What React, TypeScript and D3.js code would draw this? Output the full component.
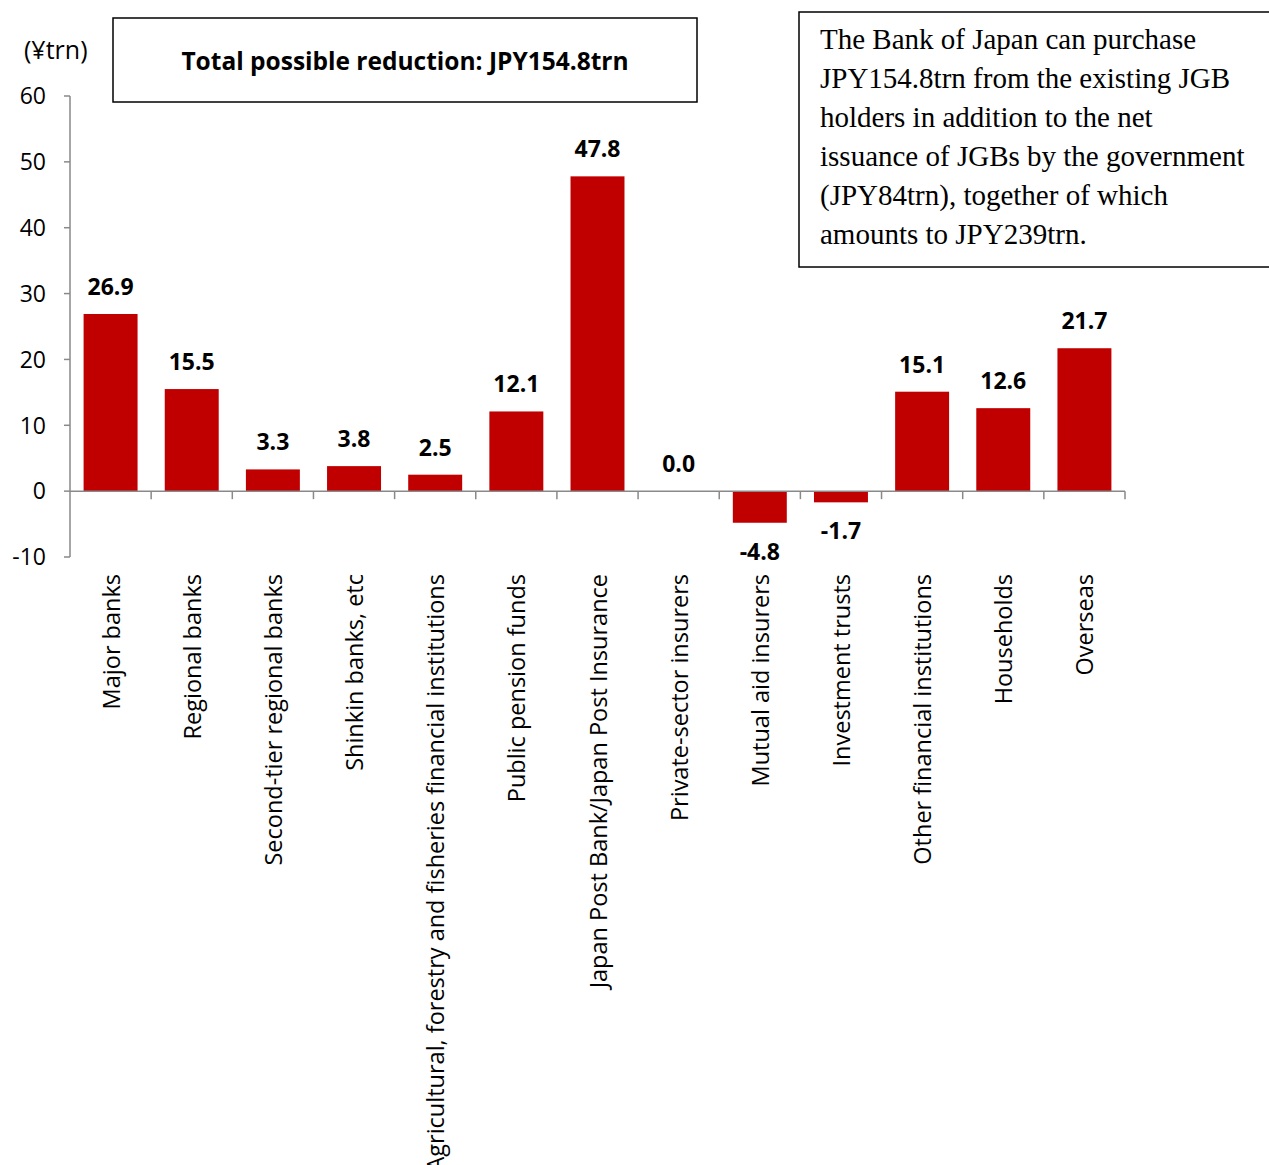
import React, { useEffect, useRef } from "react";
import { select, scaleBand, scaleLinear } from "d3";

const categories = [
  "Major banks",
  "Regional banks",
  "Second-tier regional banks",
  "Shinkin banks, etc",
  "Agricultural, forestry and fisheries financial institutions",
  "Public pension funds",
  "Japan Post Bank/Japan Post Insurance",
  "Private-sector insurers",
  "Mutual aid insurers",
  "Investment trusts",
  "Other financial institutions",
  "Households",
  "Overseas",
];
const values = [26.9, 15.5, 3.3, 3.8, 2.5, 12.1, 47.8, 0.0, -4.8, -1.7, 15.1, 12.6, 21.7];
const yTicks = [-10, 0, 10, 20, 30, 40, 50, 60];
const unitLabel = "(¥trn)";
const titleText = "Total possible reduction: JPY154.8trn";
const noteLines = [
  "The Bank of Japan can purchase",
  "JPY154.8trn from the existing JGB",
  "holders in addition to the net",
  "issuance of JGBs by the government",
  "(JPY84trn), together of which",
  "amounts to JPY239trn.",
];

const W = 1269;
const H = 1165;
const PLOT = { left: 70, right: 1125, top: 96, bottom: 557 };
const BAR = "#C00000";
const AXIS = "#898989";
const SANS = "'Open Sans', sans-serif";
const SERIF = "'Liberation Serif', 'Times New Roman', serif";

export default function App() {
  const ref = useRef<SVGSVGElement>(null);

  useEffect(() => {
    if (!ref.current) return;
    const svg = select(ref.current);
    svg.selectAll("*").remove();

    const x = scaleBand<string>()
      .domain(categories)
      .range([PLOT.left, PLOT.right])
      .paddingInner(0.335)
      .paddingOuter(0.1675);
    const step = x.step();
    const y = scaleLinear().domain([-10, 60]).range([PLOT.bottom, PLOT.top]);
    const y0 = y(0);

    // bars
    svg
      .selectAll("rect.bar")
      .data(values)
      .join("rect")
      .attr("class", "bar")
      .attr("x", (_, i) => x(categories[i])!)
      .attr("width", x.bandwidth())
      .attr("y", (d) => Math.min(y(d), y0))
      .attr("height", (d) => Math.abs(y(d) - y0))
      .attr("fill", BAR);

    // y axis
    svg
      .append("line")
      .attr("x1", PLOT.left)
      .attr("x2", PLOT.left)
      .attr("y1", y(60))
      .attr("y2", y(-10))
      .attr("stroke", AXIS)
      .attr("stroke-width", 1.5);
    svg
      .selectAll("line.ytick")
      .data(yTicks)
      .join("line")
      .attr("class", "ytick")
      .attr("x1", PLOT.left - 6)
      .attr("x2", PLOT.left)
      .attr("y1", (d) => y(d))
      .attr("y2", (d) => y(d))
      .attr("stroke", AXIS)
      .attr("stroke-width", 1.5);
    svg
      .selectAll("text.ylabel")
      .data(yTicks)
      .join("text")
      .attr("class", "ylabel")
      .attr("x", 46)
      .attr("y", (d) => y(d))
      .attr("dy", "0.36em")
      .attr("text-anchor", "end")
      .attr("font-family", SANS)
      .attr("font-size", 23)
      .attr("fill", "#000")
      .text((d) => `${d}`);

    // x axis at zero
    svg
      .append("line")
      .attr("x1", PLOT.left)
      .attr("x2", PLOT.right)
      .attr("y1", y0)
      .attr("y2", y0)
      .attr("stroke", AXIS)
      .attr("stroke-width", 1.5);
    svg
      .selectAll("line.xtick")
      .data(categories)
      .join("line")
      .attr("class", "xtick")
      .attr("x1", (d) => x(d)! - (step - x.bandwidth()) / 2 + step)
      .attr("x2", (d) => x(d)! - (step - x.bandwidth()) / 2 + step)
      .attr("y1", y0)
      .attr("y2", y0 + 8)
      .attr("stroke", AXIS)
      .attr("stroke-width", 1.5);

    // value labels
    svg
      .selectAll("text.value")
      .data(values)
      .join("text")
      .attr("class", "value")
      .attr("x", (_, i) => x(categories[i])! + x.bandwidth() / 2)
      .attr("y", (d) => (d < 0 ? y(d) + 37 : y(d) - 19))
      .attr("text-anchor", "middle")
      .attr("font-family", SANS)
      .attr("font-weight", "bold")
      .attr("font-size", 23)
      .attr("fill", "#000")
      .text((d) => d.toFixed(1));

    // category labels
    svg
      .selectAll("text.cat")
      .data(categories)
      .join("text")
      .attr("class", "cat")
      .attr("transform", (d) => `translate(${x(d)! + x.bandwidth() / 2 + 9},574) rotate(-90)`)
      .attr("text-anchor", "end")
      .attr("font-family", SANS)
      .attr("font-size", 23.5)
      .attr("fill", "#000")
      .text((d) => d);

    // unit label
    svg
      .append("text")
      .attr("x", 24)
      .attr("y", 59)
      .attr("font-family", SANS)
      .attr("font-size", 25)
      .attr("fill", "#000")
      .text(unitLabel);

    // title box
    svg
      .append("rect")
      .attr("x", 113)
      .attr("y", 18)
      .attr("width", 584)
      .attr("height", 84)
      .attr("fill", "#fff")
      .attr("stroke", "#000")
      .attr("stroke-width", 1.5);
    svg
      .append("text")
      .attr("x", 405)
      .attr("y", 70)
      .attr("text-anchor", "middle")
      .attr("font-family", SANS)
      .attr("font-weight", "bold")
      .attr("font-size", 24.5)
      .attr("fill", "#000")
      .text(titleText);

    // note box
    svg
      .append("rect")
      .attr("x", 799)
      .attr("y", 12)
      .attr("width", 480)
      .attr("height", 255)
      .attr("fill", "#fff")
      .attr("stroke", "#000")
      .attr("stroke-width", 1.5);
    svg
      .selectAll("text.note")
      .data(noteLines)
      .join("text")
      .attr("class", "note")
      .attr("x", 820)
      .attr("y", (_, i) => 49 + i * 39)
      .attr("font-family", SERIF)
      .attr("font-size", 29)
      .attr("fill", "#000")
      .text((d) => d);
  }, []);

  return (
    <div style={{ position: "absolute", left: 0, top: 0 }}>
      <svg ref={ref} width={W} height={H} viewBox={`0 0 ${W} ${H}`} style={{ display: "block", background: "#fff" }} />
    </div>
  );
}
